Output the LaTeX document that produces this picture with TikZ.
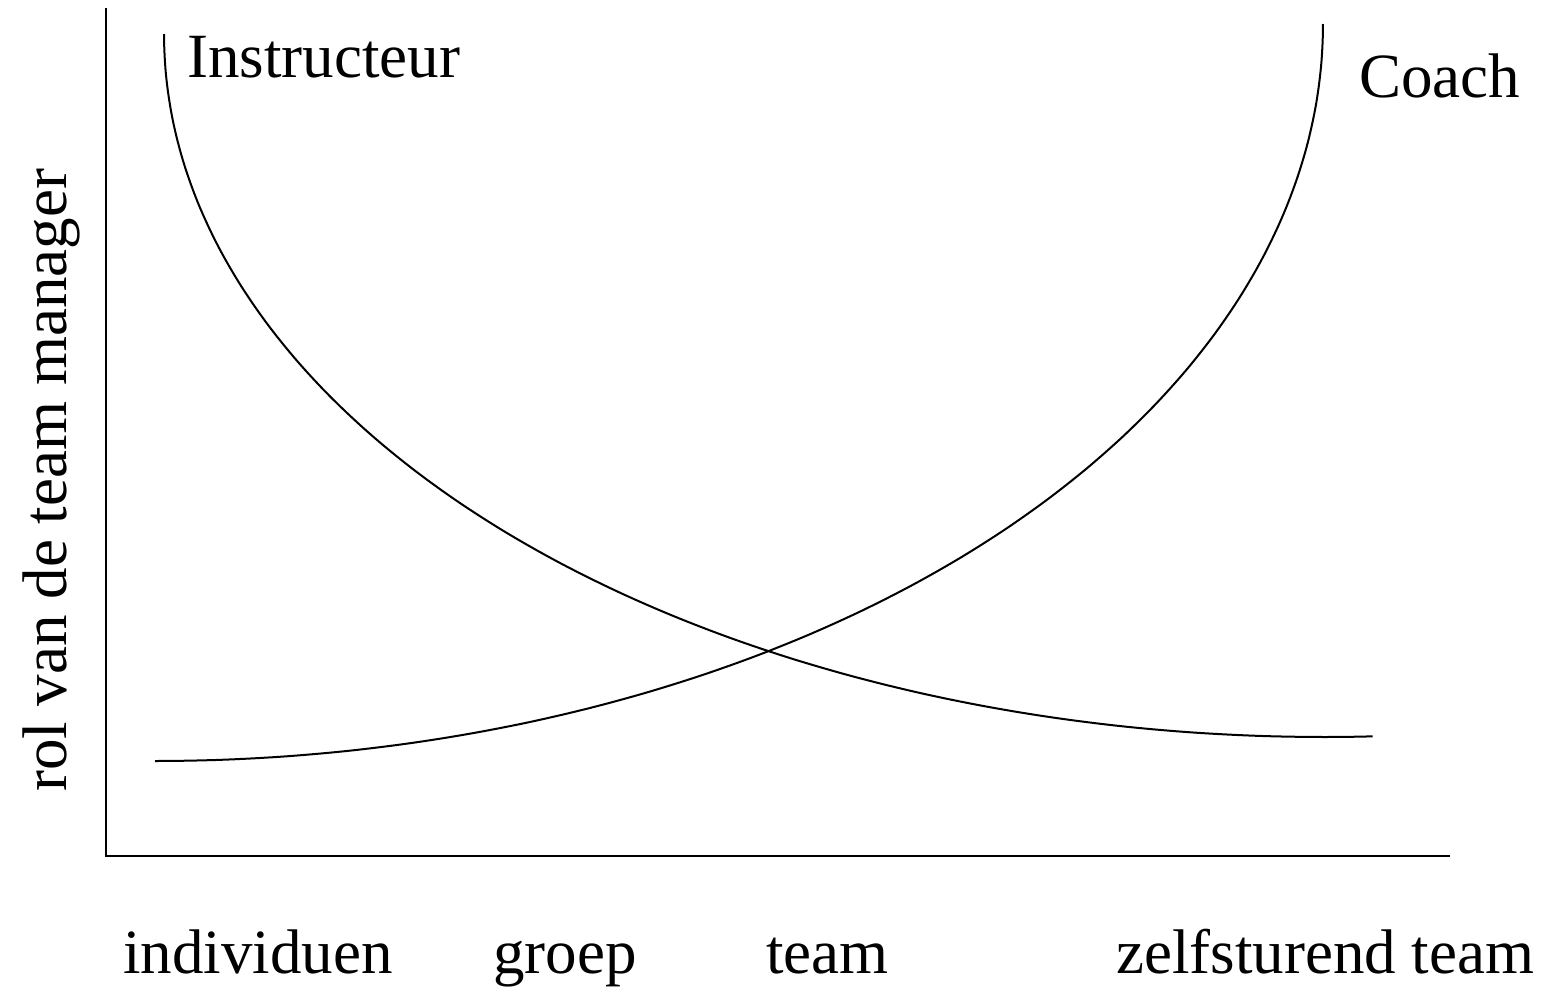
\documentclass[tikz,border=0pt]{standalone}
\usepackage{fontspec}
\setmainfont{Liberation Serif}
\begin{document}
\begin{tikzpicture}[x=1pt,y=-1pt,
  axis/.style={line width=2pt,black},
  curve/.style={line width=2pt,black},
  lbl/.style={inner sep=0pt,anchor=base west,font=\fontsize{63}{70}\selectfont}]
\useasboundingbox (0,0) rectangle (1546,986);
% axes
\coordinate (ytop) at (106,8);
\coordinate (orig) at (106,856);
\coordinate (xend) at (1450,856);
\draw[axis] (ytop) -- (orig) -- (xend);
% Instructeur curve (quarter ellipse, centre (1324,34))
\draw[curve] plot[smooth,domain=0:92.4,samples=120,variable=\t]
  ({1324-1160*cos(\t)},{34+703*sin(\t)});
% Coach curve (quarter ellipse, centre (155,24))
\draw[curve] plot[smooth,domain=0:90,samples=120,variable=\t]
  ({155+1168*sin(\t)},{24+737*cos(\t)});
% labels
\node[lbl] (instr) at (187,77) {Instructeur};
\node[lbl] (coach) at (1359,97) {Coach};
\node[lbl] (indiv) at (123,973) {individuen};
\node[lbl] (groep) at (493,973) {groep};
\node[lbl] (team) at (766,973) {team};
\node[lbl] (zelf) at (1116,973) {zelfsturend team};
\node[lbl,rotate=90] (ylab) at (66,792) {rol van de team manager};
\end{tikzpicture}
\end{document}
